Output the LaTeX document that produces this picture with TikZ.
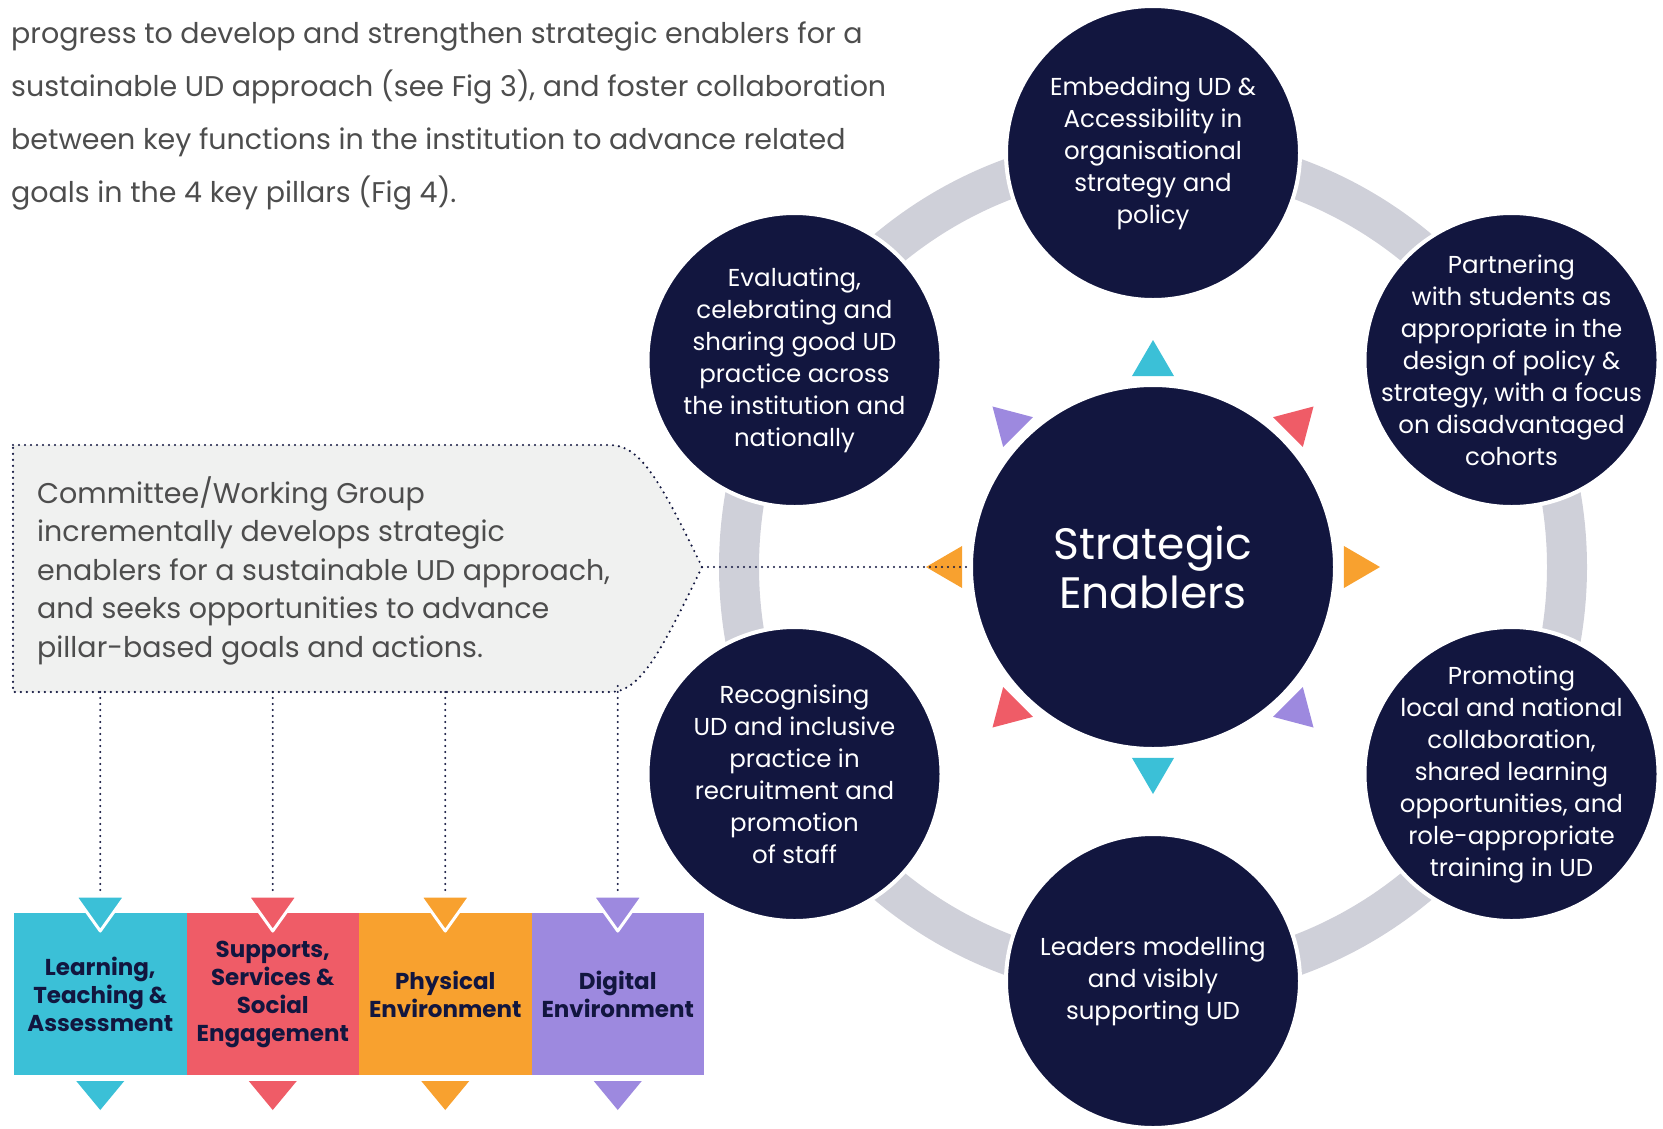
\documentclass[tikz,border=0pt]{standalone}
\usepackage{fontspec}
\setmainfont{Poppins}
\usetikzlibrary{positioning}

\definecolor{navy}{HTML}{12163F}
\definecolor{ringgray}{HTML}{CFD0D9}
\definecolor{boxgray}{HTML}{F0F1F0}
\definecolor{textgray}{HTML}{4D4D4D}
\definecolor{tcyan}{HTML}{3BC0D7}
\definecolor{tred}{HTML}{EF5C67}
\definecolor{torange}{HTML}{F8A12F}
\definecolor{tpurple}{HTML}{9D89DF}

\begin{document}
\begin{tikzpicture}[x=1pt,y=-1pt,
	enabler/.style={circle,fill=navy,draw=white,line width=4pt,minimum size=294pt,inner sep=-40pt,
		text=white,align=center,font=\fontsize{24.5}{32}\selectfont},
	pillar/.style={rectangle,fill=#1,minimum width=172.5pt,minimum height=162pt,inner sep=0pt,
		text=navy,align=center,font=\bfseries\fontsize{23}{28}\selectfont},
	dotline/.style={draw=navy,line width=2.4pt,line cap=round,dash pattern=on 0pt off 6pt}]
				\useasboundingbox (0,0) rectangle (1663,1128);
				
				% intro paragraph
				\node (intro) at (11,22) [anchor=north west,inner sep=0pt,align=left,text=textgray,
					font=\fontsize{28.5}{53}\selectfont] {progress to develop and strengthen strategic enablers for a\\
					sustainable UD approach (see Fig 3), and foster collaboration\\
					between key functions in the institution to advance related\\
					goals in the 4 key pillars (Fig 4).};
				
				% ring behind the enablers
				\node (cen) at (1153,567) [circle,fill=navy,draw=white,line width=4pt,minimum size=364pt,inner sep=0pt,
					text=white,align=center,font=\fontsize{44}{49}\selectfont] {Strategic\\Enablers};
				\draw[ringgray,line width=40pt] (cen.center) circle[radius=414pt];
				
				\node (emb) at (1153,153) [enabler] {Embedding UD \&\\Accessibility in\\organisational\\strategy and\\policy};
				\node (par) at (1511.5,360) [enabler] {Partnering\\with students as\\appropriate in the\\design of policy \&\\strategy, with a focus\\on disadvantaged\\cohorts};
				\node (pro) at (1511.5,774) [enabler] {Promoting\\local and national\\collaboration,\\shared learning\\opportunities, and\\role-appropriate\\training in UD};
				\node (lea) at (1153,981) [enabler] {Leaders modelling\\and visibly\\supporting UD};
				\node (rec) at (794.5,774) [enabler] {Recognising\\UD and inclusive\\practice in\\recruitment and\\promotion\\of staff};
				\node (eva) at (794.5,360) [enabler] {Evaluating,\\celebrating and\\sharing good UD\\practice across\\the institution and\\nationally};
				
				% small triangles round the centre
				\begin{scope}[shift={(cen.center)}]
					\foreach \a/\c in {90/tcyan,45/tred,0/torange,-45/tpurple,-90/tcyan,-135/tred,180/torange,135/tpurple}
						\fill[\c] (\a+6.3:192pt) -- (\a-6.3:192pt) -- (\a:227pt) -- cycle;
				\end{scope}
				
				% committee box
				\fill[boxgray] (13,445) -- (610,445) .. controls (640,445) and (660,480) .. (702,567)
					.. controls (660,654) and (640,692) .. (610,692) -- (13,692) -- cycle;
				\draw[dotline] (13,445) -- (610,445) .. controls (640,445) and (660,480) .. (702,567)
					.. controls (660,654) and (640,692) .. (610,692) -- (13,692) -- cycle;
				\node (cmte) at (37,476) [anchor=north west,inner sep=0pt,align=left,text=textgray,
					font=\fontsize{28.5}{38.5}\selectfont] {Committee/Working Group\\
					incrementally develops strategic\\
					enablers for a sustainable UD approach,\\
					and seeks opportunities to advance\\
					pillar-based goals and actions.};
				\coordinate (tip) at (702,567);
				\draw[dotline] (tip) -- (cen.west);
				
				% pillars
				\node (lta) at (100.25,994) [pillar=tcyan] {Learning,\\Teaching \&\\Assessment};
				\node (sse) at (272.75,994) [pillar=tred] {Supports,\\Services \&\\Social\\Engagement};
				\node (phy) at (445.25,994) [pillar=torange] {Physical\\Environment};
				\node (dig) at (617.75,994) [pillar=tpurple] {Digital\\Environment};
				
				\foreach \p/\c/\x/\y in {lta/tcyan/100.25/692,sse/tred/272.75/692,phy/torange/445.25/692,dig/tpurple/617.75/686} {
					\coordinate (\p-out) at (\x,\y);
					\coordinate (\p-in) at (\x,896);
					\draw[dotline] (\p-out) -- (\p-in);
					\filldraw[fill=\c,draw=white,line width=3pt,line join=round] (\x-25,896) -- (\x+25,896) -- (\x,931) -- cycle;
					\fill[\c] (\x-24,1081) -- (\x+24,1081) -- (\x,1110) -- cycle;
				}
			\end{tikzpicture}
\end{document}
